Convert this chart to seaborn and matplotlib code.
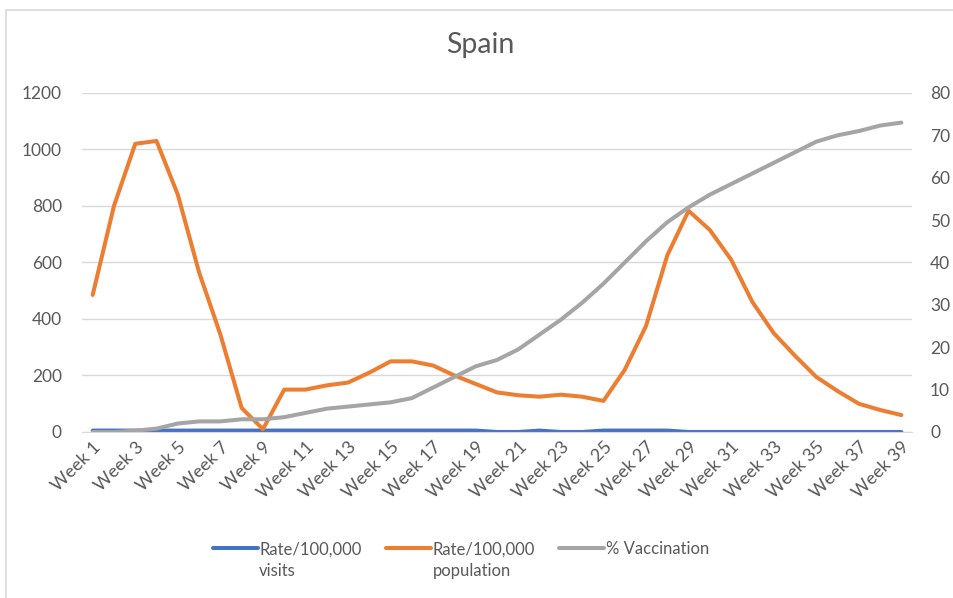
import numpy as np
import pandas as pd
import seaborn as sns
import matplotlib.pyplot as plt
from matplotlib.patches import Rectangle

# data
weeks = list(range(1, 40))
visits = [5, 5, 5, 5, 5, 5, 5, 5, 5, 5, 5, 5, 5, 5, 5, 5, 5, 5, 5, 0,
          0, 5, 0, 0, 5, 5, 5, 5, 0, 0, 0, 0, 0, 0, 0, 0, 0, 0, 0]
population = [485, 800, 1020, 1030, 840, 565, 345, 85, 10, 150,
              150, 165, 175, 210, 250, 250, 235, 200, 170, 140,
              130, 125, 132, 125, 110, 220, 375, 625, 783, 715,
              610, 460, 350, 270, 195, 145, 100, 78, 60]
vaccination = [0, 0, 0.3, 0.8, 2, 2.5, 2.5, 3, 3, 3.5,
               4.5, 5.5, 6, 6.5, 7, 8, 10.5, 13, 15.5, 17,
               19.5, 23, 26.5, 30.5, 35, 40, 45, 49.5, 53, 56,
               58.5, 61, 63.5, 66, 68.5, 70, 71, 72.3, 73]
tick_labels = ["Week %d" % w for w in weeks]

df = pd.DataFrame({"week": weeks, "visits": visits,
                   "population": population, "vaccination": vaccination})

sns.set_style("white")
plt.rcParams['font.family'] = ['Lato', 'DejaVu Sans']
txt = "#595959"

fig = plt.figure(figsize=(9.54, 5.98), dpi=100)
ax = fig.add_axes([0.086, 0.2776, 0.870, 0.567])
ax2 = ax.twinx()

# chart area border (only left and top visible in the crop)
fig.patches.append(Rectangle((6 / 954, -0.1), 1.2, 1.1 - 10 / 598,
                             transform=fig.transFigure, fill=False,
                             ec="#D9D9D9", lw=1.2))

sns.lineplot(data=df, x="week", y="visits", ax=ax, color="#4472C4", lw=2.9,
             label="Rate/100,000\nvisits", legend=False)
sns.lineplot(data=df, x="week", y="population", ax=ax, color="#ED7D31", lw=2.9,
             label="Rate/100,000\npopulation", legend=False)
sns.lineplot(data=df, x="week", y="vaccination", ax=ax2, color="#A5A5A5", lw=2.9,
             label="% Vaccination\n ", legend=False)

ax.set_xlim(0.5, 39.5)
ax.set_ylim(0, 1200)
ax2.set_ylim(0, 80)
ax.set_yticks(range(0, 1201, 200))
ax2.set_yticks(range(0, 81, 10))
ax.set_xticks(weeks[::2])
ax.set_xticklabels(tick_labels[::2], rotation=45, ha="right",
                   rotation_mode="anchor", fontsize=13, color=txt)
ax.tick_params(axis="y", labelsize=12.5, labelcolor=txt, length=0, pad=14.5)
ax2.tick_params(axis="y", labelsize=12.5, labelcolor=txt, length=0, pad=13)
ax.tick_params(axis="x", length=0, pad=5)
ax.yaxis.grid(True, color="#D9D9D9", lw=1)
ax.set_axisbelow(True)
ax.set_xlabel("")
ax.set_ylabel("")
ax2.set_ylabel("")
for a in (ax, ax2):
    for s in a.spines.values():
        s.set_visible(False)
ax.spines["bottom"].set_visible(True)
ax.spines["bottom"].set_color("#D9D9D9")

fig.text(0.503, 1 - 45 / 598, "Spain", fontsize=20.5, color=txt,
         ha="center", va="center")

h1, l1 = ax.get_legend_handles_labels()
h2, l2 = ax2.get_legend_handles_labels()
leg = fig.legend(h1 + h2, l1 + l2, loc="upper center", bbox_to_anchor=(0.483, 0.12),
                 ncol=3, frameon=False, fontsize=12, labelcolor=txt,
                 handlelength=2.7, handletextpad=0.1, columnspacing=1.45)
for t in leg.get_texts():
    t.set_linespacing(1.45)
# put the handle level with the first text line, as Excel does
for ln in leg.legend_handles:
    ln.set_ydata(np.asarray(ln.get_ydata()) + 9)

fig.savefig("out.png", dpi=100)
